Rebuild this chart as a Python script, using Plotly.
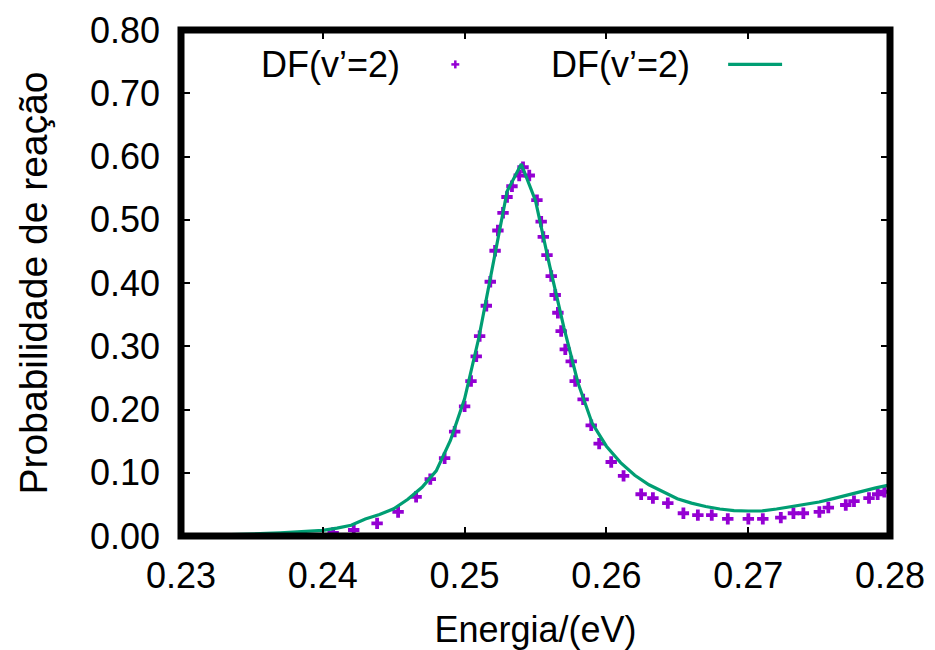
import plotly.graph_objects as go

# Purple "+" points (DF(v'=2))
pts_energy = [0.24073, 0.24218, 0.24383, 0.24531, 0.24658, 0.24758, 0.24859, 0.24930,
              0.25000, 0.25045, 0.25082, 0.25106, 0.25153, 0.25181, 0.25215, 0.25235,
              0.25271, 0.25299, 0.25334, 0.25385, 0.25412, 0.25456, 0.25510, 0.25540,
              0.25555, 0.25581, 0.25611, 0.25639, 0.25658, 0.25681, 0.25710, 0.25752,
              0.25780, 0.25836, 0.25893, 0.25949, 0.26034, 0.26121, 0.26245, 0.26328,
              0.26433, 0.26543, 0.26645, 0.26743, 0.26856, 0.27001, 0.27103, 0.27230,
              0.27319, 0.27389, 0.27502, 0.27565, 0.27688, 0.27746, 0.27852, 0.27913,
              0.27960]
pts_prob = [0.005, 0.0095, 0.020, 0.038, 0.062, 0.090, 0.123, 0.165,
            0.205, 0.245, 0.284, 0.316, 0.364, 0.402, 0.451, 0.483,
            0.511, 0.536, 0.553, 0.570, 0.583, 0.570, 0.531, 0.497,
            0.473, 0.444, 0.411, 0.381, 0.353, 0.324, 0.295, 0.276,
            0.245, 0.216, 0.175, 0.146, 0.117, 0.095, 0.066, 0.060,
            0.052, 0.036, 0.033, 0.033, 0.027, 0.027, 0.027, 0.029,
            0.036, 0.036, 0.038, 0.045, 0.049, 0.055, 0.060, 0.066,
            0.070]

# Green line (DF(v'=2))
line_energy = [0.230, 0.231, 0.232, 0.233, 0.234, 0.235, 0.236, 0.237, 0.238, 0.239,
               0.240, 0.241, 0.242, 0.243, 0.244, 0.245, 0.246, 0.247, 0.248, 0.249,
               0.250, 0.251, 0.252, 0.253, 0.254, 0.255, 0.256, 0.257, 0.258, 0.259,
               0.260, 0.261, 0.262, 0.263, 0.264, 0.265, 0.266, 0.267, 0.268, 0.269,
               0.270, 0.271, 0.272, 0.273, 0.274, 0.275, 0.276, 0.277, 0.278, 0.279,
               0.280]
line_prob = [0.000, 0.0005, 0.001, 0.0015, 0.002, 0.003, 0.004, 0.005, 0.006, 0.0075,
             0.009, 0.0125, 0.017, 0.027, 0.034, 0.043, 0.058, 0.077, 0.103, 0.151,
             0.217, 0.313, 0.429, 0.545, 0.588, 0.530, 0.427, 0.330, 0.242, 0.178,
             0.142, 0.116, 0.096, 0.081, 0.070, 0.059, 0.052, 0.0466, 0.0427, 0.040,
             0.0395, 0.0398, 0.0427, 0.046, 0.0496, 0.0537, 0.059, 0.065, 0.071, 0.076,
             0.081]

x_ticks = [0.23, 0.24, 0.25, 0.26, 0.27, 0.28]
y_ticks = [0.0, 0.1, 0.2, 0.3, 0.4, 0.5, 0.6, 0.7, 0.8]
legend_label = "DF(v’=2)"

PURPLE = "#9400D3"
GREEN = "#009E73"
FONT = "Liberation Sans"
FS = 36

fig = go.Figure()
fig.add_trace(go.Scatter(x=pts_energy, y=pts_prob, mode="markers",
                         marker=dict(symbol="cross", size=9.5, color=PURPLE, line=dict(width=0)),
                         showlegend=False))
fig.add_trace(go.Scatter(x=line_energy, y=line_prob, mode="lines",
                         line=dict(color=GREEN, width=3.2), showlegend=False))

axis_common = dict(showgrid=False, zeroline=False, showline=False, ticks="inside",
                   ticklen=9, tickwidth=2, tickcolor="black", mirror="ticks", automargin=False,
                   tickfont=dict(family=FONT, size=FS, color="black"))

fig.update_xaxes(range=[0.23, 0.28], tickvals=x_ticks, tickformat=".2f", ticklabelstandoff=15,
                 title=dict(text="Energia/(eV)", font=dict(family=FONT, size=FS, color="black"),
                            standoff=24),
                 **axis_common)
fig.update_yaxes(range=[0.0, 0.8], tickvals=y_ticks, tickformat=".2f", ticklabelstandoff=20,
                 title=dict(text="Probabilidade de reação", font=dict(family=FONT, size=39, color="black"),
                            standoff=30),
                 **axis_common)

# frame
fig.add_shape(type="rect", xref="paper", yref="paper", x0=0, x1=1, y0=0, y1=1,
              line=dict(color="black", width=7), layer="above")

# key (gnuplot style: text then sample)
ky = 0.932
fig.add_annotation(xref="paper", yref="paper", x=0.3122, y=ky, xanchor="right", yanchor="middle",
                   text=legend_label, showarrow=False, font=dict(family=FONT, size=FS, color="black"))
fig.add_annotation(xref="paper", yref="paper", x=0.7209, y=ky, xanchor="right", yanchor="middle",
                   text=legend_label, showarrow=False, font=dict(family=FONT, size=FS, color="black"))
cx, dx, dy = 0.3869, 0.0056, 0.0079
fig.add_shape(type="line", xref="paper", yref="paper", x0=cx - dx, x1=cx + dx, y0=ky, y1=ky,
              line=dict(color=PURPLE, width=2.5))
fig.add_shape(type="line", xref="paper", yref="paper", x0=cx, x1=cx, y0=ky - dy, y1=ky + dy,
              line=dict(color=PURPLE, width=2.5))
fig.add_shape(type="line", xref="paper", yref="paper", x0=0.7717, x1=0.8478, y0=ky, y1=ky,
              line=dict(color=GREEN, width=3.2))

fig.update_layout(width=935, height=650, margin=dict(l=181, r=45, t=30, b=114),
                  plot_bgcolor="white", paper_bgcolor="white")

fig.write_html("out.html")
